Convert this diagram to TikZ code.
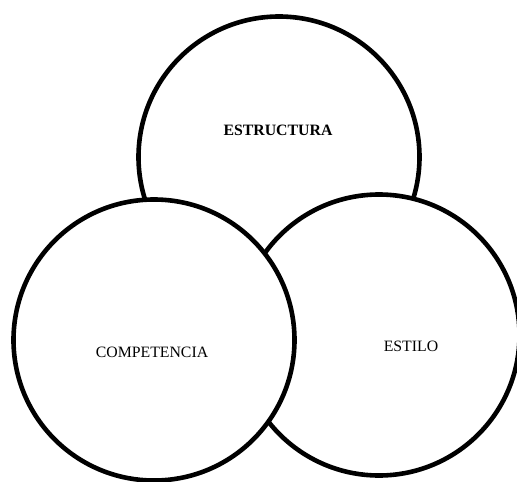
\documentclass[tikz,border=0pt]{standalone}
\usepackage{fontspec}
\setmainfont{Liberation Serif}
\begin{document}
\begin{tikzpicture}[x=1pt,y=-1pt,
  ring/.style={circle,draw=black,fill=white,line width=4.6pt,minimum size=281pt,inner sep=0pt},
  lbl/.style={font=\fontsize{15.8}{18}\selectfont,inner sep=0pt}]
\useasboundingbox (0,0) rectangle (517,482);
\clip (0,0) rectangle (517,482);
\node[ring] (top) at (279,157) {};
\node[ring] (right) at (379,335) {};
\node[ring] (left) at (154,340) {};
\node[lbl,font=\fontsize{15.8}{18}\selectfont\bfseries] (testr) at (278,130) {ESTRUCTURA};
\node[lbl] (tcomp) at (152,352) {COMPETENCIA};
\node[lbl] (testi) at (411,346) {ESTILO};
\end{tikzpicture}
\end{document}
